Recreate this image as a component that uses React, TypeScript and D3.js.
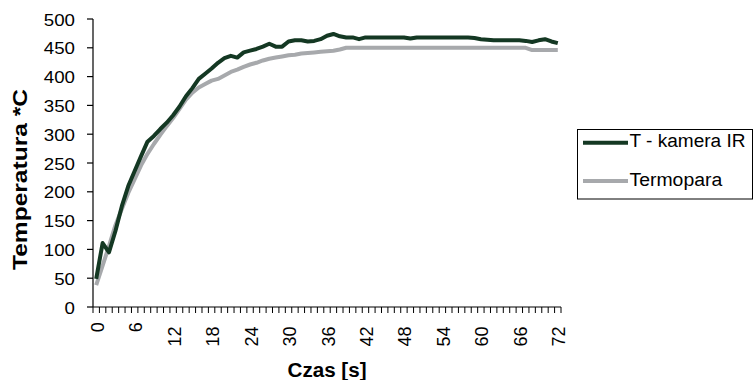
import React from 'react';
import * as d3 from 'd3';

// czas [s] – kategorie osi X
const czas = [
  0, 1, 2, 3, 4, 5, 6, 7, 8, 9, 10, 11, 12, 13, 14, 15, 16, 17, 18, 19, 20,
  21, 22, 23, 24, 25, 26, 27, 28, 29, 30, 31, 32, 33, 34, 35, 36, 37, 38, 39,
  40, 41, 42, 43, 44, 45, 46, 47, 48, 49, 50, 51, 52, 53, 54, 55, 56, 57, 58,
  59, 60, 61, 62, 63, 64, 65, 66, 67, 68, 69, 70, 71, 72,
];

// T - kamera IR
const kameraIR = [
  49, 111, 95, 132, 175, 210, 236, 262, 287, 297, 309, 320, 333, 348, 366, 380,
  396, 405, 414, 424, 432, 436, 433, 442, 445, 448, 452, 457, 452, 452, 461,
  463, 463, 461, 462, 465, 471, 474, 470, 468, 468, 465, 468, 468, 468, 468,
  468, 468, 468, 466, 468, 468, 468, 468, 468, 468, 468, 468, 468, 467, 465,
  464, 463, 463, 463, 463, 463, 462, 460, 463, 465, 461, 458,
];

// Termopara
const termopara = [
  38, 72, 106, 142, 170, 198, 222, 246, 266, 283, 299, 314, 328, 344, 360, 372,
  381, 387, 393, 396, 402, 408, 412, 417, 421, 424, 428, 431, 433, 435, 437,
  438, 440, 441, 442, 443, 444, 445, 447, 450, 450, 450, 450, 450, 450, 450,
  450, 450, 450, 450, 450, 450, 450, 450, 450, 450, 450, 450, 450, 450, 450,
  450, 450, 450, 450, 450, 450, 450, 446, 446, 446, 446, 446,
];

const yTicks = [0, 50, 100, 150, 200, 250, 300, 350, 400, 450, 500];
const xLabels = [0, 6, 12, 18, 24, 30, 36, 42, 48, 54, 60, 66, 72];

const series = [
  { name: 'T - kamera IR', values: kameraIR, color: '#143823' },
  { name: 'Termopara', values: termopara, color: '#a7a9ac' },
];

const FONT = '"Liberation Sans", Arial, sans-serif';

export default function App() {
  const left = 93;
  const right = 561;
  const top = 19;
  const bottom = 307;

  const x = d3.scaleBand<number>().domain(czas).range([left, right]).paddingInner(0).paddingOuter(0);
  const bw = x.bandwidth();
  const cx = (c: number) => (x(c) as number) + bw / 2;
  const y = d3.scaleLinear().domain([0, 500]).range([bottom, top]);

  const line = d3
    .line<number>()
    .x((_, i) => cx(czas[i]))
    .y((d) => y(d));

  const boundaries = czas.map((c) => x(c) as number).concat([right]);

  return (
    <svg
      width={753}
      height={380}
      style={{ position: 'absolute', left: 0, top: 0, background: '#fff' }}
      fontFamily={FONT}
    >
      {/* serie – szara pod spodem */}
      {series
        .slice()
        .reverse()
        .map((s) => (
          <path
            key={s.name}
            d={line(s.values) || ''}
            fill="none"
            stroke={s.color}
            strokeWidth={4}
            strokeLinejoin="round"
          />
        ))}

      {/* oś Y */}
      <line x1={left} x2={left} y1={top} y2={bottom} stroke="#000" strokeWidth={1.2} />
      {yTicks.map((t) => (
        <g key={t}>
          <line x1={left - 6} x2={left} y1={y(t)} y2={y(t)} stroke="#000" strokeWidth={1.2} />
          <text
            x={75}
            y={y(t) + 1}
            textAnchor="end"
            dominantBaseline="central"
            fontSize={17}
            textLength={String(t).length * 10.4}
            lengthAdjust="spacingAndGlyphs"
            fill="#000"
          >
            {t}
          </text>
        </g>
      ))}

      {/* oś X */}
      <line x1={left} x2={right} y1={bottom} y2={bottom} stroke="#000" strokeWidth={1.2} />
      {boundaries.map((b, i) => (
        <line key={i} x1={b} x2={b} y1={bottom} y2={bottom + 6} stroke="#000" strokeWidth={1} />
      ))}
      {xLabels.map((l) => {
        const len = String(l).length;
        const ly = 318 + 9.2 * len;
        const lx = cx(l) + 1.5;
        return (
          <text
            key={l}
            transform={`translate(${lx},${ly}) rotate(-90)`}
            textAnchor="middle"
            dominantBaseline="central"
            fontSize={18}
            fill="#000"
          >
            {l}
          </text>
        );
      })}

      {/* tytuły osi */}
      <text
        x={(left + right) / 2}
        y={376.5}
        textAnchor="middle"
        fontSize={19.5}
        fontWeight="bold"
        textLength={79}
        lengthAdjust="spacingAndGlyphs"
      >
        Czas [s]
      </text>
      <text
        transform={`translate(27,179.5) rotate(-90)`}
        textAnchor="middle"
        fontSize={20}
        fontWeight="bold"
        textLength={181}
        lengthAdjust="spacingAndGlyphs"
      >
        Temperatura *C
      </text>

      {/* legenda */}
      <rect x={577.5} y={129.5} width={175} height={69.5} fill="#fff" stroke="#000" strokeWidth={1} />
      {series.map((s, i) => {
        const ly = i === 0 ? 142.7 : 181;
        return (
          <g key={s.name}>
            <line x1={583} x2={628} y1={ly} y2={ly} stroke={s.color} strokeWidth={4} />
            <text
              x={629.5}
              y={ly + 4.5 + (i === 0 ? 0.2 : 0)}
              dominantBaseline="auto"
              fontSize={17.6}
              textLength={i === 0 ? 116 : 92.7}
              lengthAdjust="spacingAndGlyphs"
              fill="#000"
            >
              {s.name}
            </text>
          </g>
        );
      })}
    </svg>
  );
}
